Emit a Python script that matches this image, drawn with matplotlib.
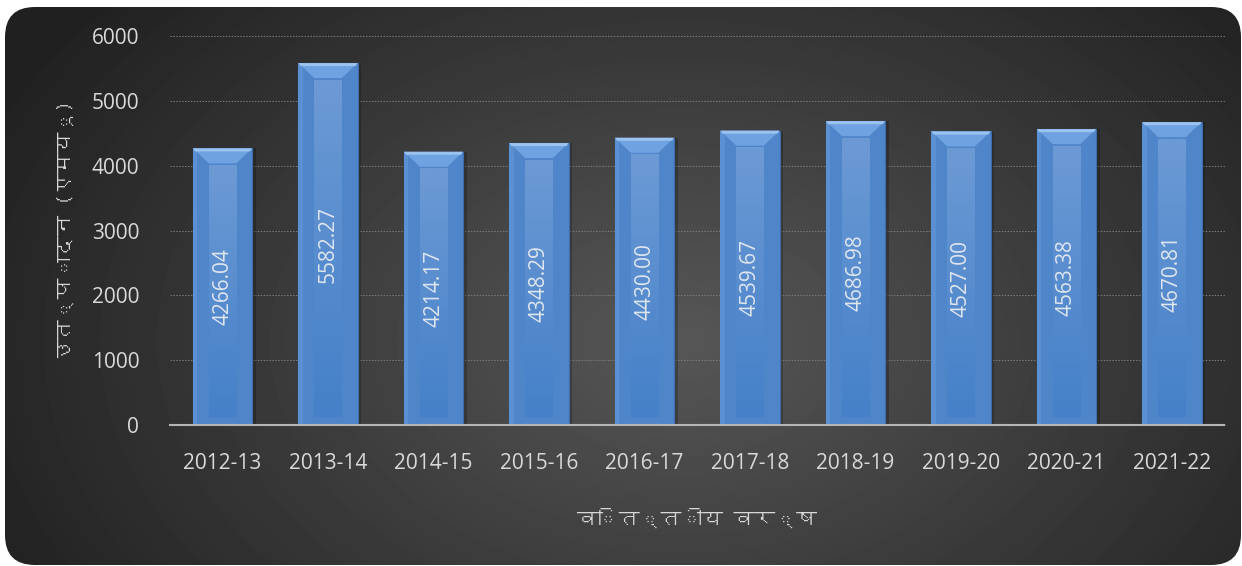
import numpy as np
import matplotlib
matplotlib.use('Agg')
import matplotlib.pyplot as plt
from matplotlib import font_manager
from matplotlib.ft2font import FT2Font
from matplotlib.patches import FancyBboxPatch, Polygon
from matplotlib.colors import LinearSegmentedColormap

# chart data
years = ['2012-13', '2013-14', '2014-15', '2015-16', '2016-17',
         '2017-18', '2018-19', '2019-20', '2020-21', '2021-22']
generation = [4266.04, 5582.27, 4214.17, 4348.29, 4430.00,
              4539.67, 4686.98, 4527.00, 4563.38, 4670.81]
y_ticks = [0, 1000, 2000, 3000, 4000, 5000, 6000]
y_label = 'उत्पादन (एमयू)'
x_label = 'वित्तीय वर्ष'

# look for any installed font that has devanagari glyphs
deva_fonts = []
for path in font_manager.findSystemFonts():
    try:
        if 0x0935 in FT2Font(path).get_charmap():
            name = font_manager.FontProperties(fname=path).get_name()
            if name not in deva_fonts:
                deva_fonts.append(name)
    except Exception:
        pass
plt.rcParams['font.family'] = ['Open Sans'] + deva_fonts[:1] + ['DejaVu Sans']
label_family = deva_fonts[:1] + ['Open Sans', 'DejaVu Sans']

txt = '#d9d9d9'
fig = plt.figure(figsize=(12.42, 5.66), dpi=100)
fig.patch.set_facecolor('white')

# rounded dark panel with radial gradient
bg = fig.add_axes([0, 0, 1, 1], zorder=-10)
bg.set_xlim(0, 1242)
bg.set_ylim(566, 0)
bg.axis('off')
yy, xx = np.mgrid[0:566, 0:1242]
r = np.sqrt(((xx - 680) / 760.0) ** 2 + ((yy - 340) / 520.0) ** 2)
shade = np.clip(0.34 - 0.21 * r, 0.13, 0.34)
img = bg.imshow(shade, cmap='gray', vmin=0, vmax=1, extent=(0, 1242, 566, 0),
                aspect='auto', interpolation='bilinear')
panel = FancyBboxPatch((5, 7), 1236, 558, boxstyle='round,pad=0,rounding_size=30',
                       facecolor='none', edgecolor='none')
bg.add_patch(panel)
img.set_clip_path(panel)

ax = fig.add_axes([0.1367, 0.2491, 0.8494, 0.6873])
ax.set_facecolor('none')
x = np.arange(len(years))
vals = np.array(generation)
w = 0.56
px = 6000 / 389.0  # data units per pixel in y

# shadow, body
ax.bar(x + 0.035, vals, width=w, color='black', alpha=0.22, zorder=2)
ax.bar(x, vals, width=w, color='#4f85c9', edgecolor='#3d6dab', linewidth=0.8, zorder=3)
ax.bar(x - w / 2 + 0.02, vals, width=0.04, color='#5b90d2', zorder=3)

# inner gradient panel and top bevel
grad = np.linspace(0, 1, 100).reshape(-1, 1)
inner_cmap = LinearSegmentedColormap.from_list('inner', ['#4580c8', '#6c9ad5'])
iw = 0.26
for xi, v in zip(x, vals):
    ax.imshow(grad, cmap=inner_cmap, origin='lower', aspect='auto',
              extent=(xi - iw / 2, xi + iw / 2, 8 * px, v - 17 * px), zorder=4)
    ax.add_patch(Polygon([(xi - w / 2, v), (xi + w / 2, v),
                          (xi + iw / 2, v - 15 * px), (xi - iw / 2, v - 15 * px)],
                         closed=True, facecolor='#6fa2e0', edgecolor='none', zorder=5))
    ax.add_patch(Polygon([(xi - w / 2, v), (xi + w / 2, v),
                          (xi + w / 2 - 0.02, v - 3 * px), (xi - w / 2 + 0.02, v - 3 * px)],
                         closed=True, facecolor='#9cc2f0', edgecolor='none', zorder=6))
    ax.text(xi, v / 2, f'{v:.2f}', rotation=90, ha='center', va='center',
            color='#dfe6ef', fontsize=15, zorder=7)

ax.set_xlim(-0.5, len(years) - 0.5)
ax.set_ylim(0, 6000)
ax.set_yticks(y_ticks)
ax.set_xticks(x)
ax.set_xticklabels(years)
ax.tick_params(axis='y', length=0, pad=22, labelsize=15, labelcolor=txt)
ax.tick_params(axis='x', length=0, pad=20, labelsize=15, labelcolor=txt)
ax.grid(axis='y', color='#7c7c7c', linestyle=(0, (1.5, 1.5)), linewidth=0.7, zorder=1)
ax.set_axisbelow(True)
for s in ['left', 'right', 'top']:
    ax.spines[s].set_visible(False)
ax.spines['bottom'].set_color('#b5b5b5')
ax.spines['bottom'].set_linestyle((0, (2, 1)))
ax.spines['bottom'].set_linewidth(1.5)
ax.spines['bottom'].set_zorder(8)

ax.set_ylabel(y_label, fontsize=15, fontweight='bold', color=txt,
              family=label_family, labelpad=12)
ax.set_xlabel(x_label, fontsize=15, fontweight='bold', color=txt,
              family=label_family, labelpad=25)

fig.savefig('out.png', dpi=100, facecolor='white')
